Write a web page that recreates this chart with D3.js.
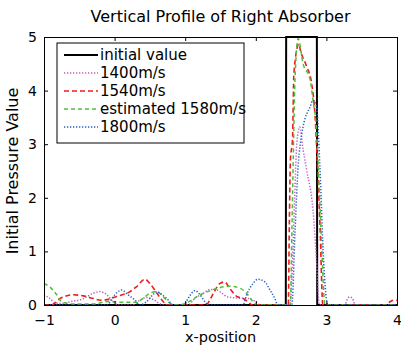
<!DOCTYPE html>
<html>
<head>
<meta charset="utf-8">
<script src="https://cdn.jsdelivr.net/npm/d3@7"></script>
<style>
  body { margin: 0; background: #fff; }
  svg { font-family: "DejaVu Sans", Arial, sans-serif; }
</style>
</head>
<body>
<div id="chart"></div>
<script>
// axis ticks
const xTicks = [-1, 0, 1, 2, 3, 4];
const yTicks = [0, 1, 2, 3, 4, 5];

// initial value (step profile)
const xInit = [-1, 2.425, 2.43, 2.865, 2.87, 4];
const yInit = [0, 0, 5, 5, 0, 0];

// 1400m/s
const x1400 = [-1, -0.915, -0.84, -0.75, -0.63, -0.44, -0.3, -0.21, -0.11, -0.02, 0.05, 0.25, 0.36, 0.45, 0.55, 0.65, 0.7, 1.05, 1.11, 1.26, 1.35, 1.45, 1.52, 1.6, 1.75, 1.9, 2.0, 2.06, 2.48, 2.52, 2.55, 2.58, 2.62, 2.67, 2.72, 2.81, 2.86, 2.9, 3.26, 3.3, 3.33, 3.37, 3.41, 4];
const y1400 = [0.19, 0.12, 0.04, 0.03, 0.06, 0.12, 0.22, 0.25, 0.19, 0.06, 0, 0, 0.09, 0.14, 0.1, 0.02, 0, 0, 0.09, 0.22, 0.29, 0.28, 0.22, 0.15, 0.13, 0.12, 0.06, 0, 0, 0.8, 2.0, 3.0, 3.32, 2.9, 2.52, 1.77, 0.84, 0, 0, 0.12, 0.15, 0.12, 0, 0];

// 1540m/s
const x1540 = [-1, -0.9, -0.82, -0.77, -0.585, -0.44, -0.3, -0.2, -0.11, 0.03, 0.22, 0.31, 0.43, 0.5, 0.6, 0.69, 0.75, 1.3, 1.35, 1.4, 1.49, 1.56, 1.63, 1.73, 1.82, 1.89, 1.95, 2.46, 2.475, 2.49, 2.52, 2.54, 2.61, 2.63, 2.72, 2.79, 2.84, 2.86, 2.885, 2.91, 2.95, 3.85, 3.9, 3.95, 4];
const y1540 = [0, 0, 0.06, 0.12, 0.19, 0.17, 0.12, 0.09, 0.1, 0.16, 0.25, 0.34, 0.48, 0.4, 0.22, 0.06, 0, 0, 0.1, 0.22, 0.4, 0.43, 0.31, 0.16, 0.12, 0.06, 0, 0, 1.5, 2.7, 3.1, 4.33, 4.87, 4.76, 4.45, 4.14, 3.51, 3.0, 2.3, 1.46, 0, 0, 0.06, 0.09, 0.09];

// estimated 1580m/s
const x1580 = [-1, -0.92, -0.82, -0.75, -0.6, -0.3, -0.07, 0.1, 0.3, 0.4, 0.5, 0.6, 0.69, 0.79, 0.9, 1.0, 1.1, 1.2, 1.3, 1.45, 1.63, 1.78, 1.87, 1.96, 2.02, 2.49, 2.51, 2.53, 2.555, 2.6, 2.67, 2.77, 2.81, 2.86, 2.885, 2.93, 2.98, 4];
const y1580 = [0.4, 0.34, 0.19, 0.06, 0.02, 0.02, 0.07, 0.05, 0.05, 0.12, 0.22, 0.25, 0.15, 0.03, 0, 0.03, 0.1, 0.18, 0.24, 0.31, 0.35, 0.31, 0.22, 0.06, 0, 0, 1.3, 2.7, 4.2, 4.97, 4.5, 4.2, 3.82, 3.26, 2.6, 1.2, 0, 0];

// 1800m/s
const x1800 = [-1, -0.1, -0.04, 0.05, 0.1, 0.19, 0.29, 0.36, 0.45, 0.55, 0.6, 0.64, 0.74, 0.83, 0.98, 1.04, 1.14, 1.21, 1.28, 1.33, 1.82, 1.87, 1.96, 2.03, 2.13, 2.2, 2.27, 2.31, 2.51, 2.555, 2.6, 2.63, 2.67, 2.77, 2.81, 2.86, 2.91, 2.96, 3.02, 4];
const y1800 = [0, 0, 0.12, 0.25, 0.28, 0.19, 0.09, 0, 0.06, 0.2, 0.25, 0.22, 0.12, 0, 0, 0.12, 0.27, 0.19, 0.06, 0, 0, 0.19, 0.4, 0.48, 0.43, 0.28, 0.12, 0, 0, 1.35, 2.6, 3.0, 3.33, 3.7, 3.82, 3.7, 2.52, 0.84, 0, 0];

const width = 401, height = 345;
const margin = { left: 44, right: 4, top: 37, bottom: 40 };

const svg = d3.select('#chart').append('svg')
    .attr('width', width)
    .attr('height', height);

const x = d3.scaleLinear().domain([-1, 4]).range([margin.left, width - margin.right]);
const y = d3.scaleLinear().domain([0, 5]).range([height - margin.bottom, margin.top]);

// series table built from the arrays
const series = [
    { name: 'initial value', xs: xInit, ys: yInit, color: '#000', width: 2, dash: null, curve: d3.curveLinear },
    { name: '1400m/s', xs: x1400, ys: y1400, color: '#c060c0', width: 1.5, dash: '1.3,1.7', curve: d3.curveMonotoneX },
    { name: '1540m/s', xs: x1540, ys: y1540, color: '#ee1c1c', width: 1.6, dash: '5,3', curve: d3.curveMonotoneX },
    { name: 'estimated 1580m/s', xs: x1580, ys: y1580, color: '#4cbf3a', width: 1.5, dash: '4,3', curve: d3.curveMonotoneX },
    { name: '1800m/s', xs: x1800, ys: y1800, color: '#2a62c4', width: 1.5, dash: '1.3,1.7', curve: d3.curveMonotoneX }
];

const plot = svg.append('g');
series.forEach(s => {
    const pts = s.xs.map((v, i) => [v, s.ys[i]]);
    const line = d3.line().x(d => x(d[0])).y(d => y(d[1])).curve(s.curve);
    plot.append('path')
        .attr('d', line(pts))
        .attr('fill', 'none')
        .attr('stroke', s.color)
        .attr('stroke-width', s.width)
        .attr('stroke-dasharray', s.dash);
});

// axes, ticks inside on all four sides
const tickLen = 4;
svg.append('g').attr('transform', `translate(0,${y(0)})`)
    .call(d3.axisBottom(x).tickValues(xTicks).tickSize(-tickLen).tickPadding(10).tickFormat(d3.format('d')));
svg.append('g').attr('transform', `translate(0,${y(5)})`)
    .call(d3.axisTop(x).tickValues(xTicks).tickSize(-tickLen).tickFormat(''));
svg.append('g').attr('transform', `translate(${x(-1)},0)`)
    .call(d3.axisLeft(y).tickValues(yTicks).tickSize(-tickLen).tickPadding(7).tickFormat(d3.format('d')));
svg.append('g').attr('transform', `translate(${x(4)},0)`)
    .call(d3.axisRight(y).tickValues(yTicks).tickSize(-tickLen).tickFormat(''));

svg.selectAll('.domain').attr('stroke', '#000').attr('stroke-width', 1);
svg.selectAll('.tick line').attr('stroke', '#000');
svg.selectAll('.tick text').attr('font-size', 14).attr('fill', '#000')
    .attr('font-family', '"DejaVu Sans", Arial, sans-serif');

// title and labels
svg.append('text')
    .attr('x', (x(-1) + x(4)) / 2).attr('y', 22)
    .attr('text-anchor', 'middle').attr('font-size', 16)
    .text('Vertical Profile of Right Absorber');
svg.append('text')
    .attr('x', (x(-1) + x(4)) / 2).attr('y', 342)
    .attr('text-anchor', 'middle').attr('font-size', 14.5)
    .text('x-position');
svg.append('text')
    .attr('transform', `translate(18,${(y(0) + y(5)) / 2}) rotate(-90)`)
    .attr('text-anchor', 'middle').attr('font-size', 16)
    .text('Initial Pressure Value');

// legend
const legend = svg.append('g').attr('transform', 'translate(57,43)');
legend.append('rect')
    .attr('width', 187).attr('height', 100)
    .attr('fill', '#fff').attr('stroke', '#000').attr('stroke-width', 1);
series.forEach((s, i) => {
    const ly = 12 + i * 18;
    legend.append('line')
        .attr('x1', 7).attr('x2', 41).attr('y1', ly).attr('y2', ly)
        .attr('stroke', s.color)
        .attr('stroke-width', s.width)
        .attr('stroke-dasharray', s.dash);
    legend.append('text')
        .attr('x', 43).attr('y', ly + 5)
        .attr('font-size', 15)
        .text(s.name);
});
</script>
</body>
</html>
